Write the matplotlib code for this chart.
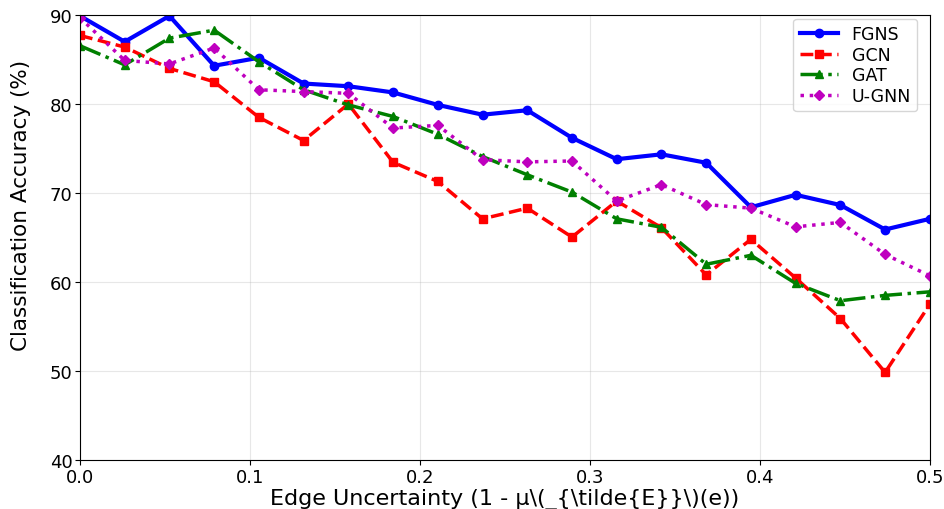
import matplotlib
matplotlib.use("Agg")
import matplotlib.pyplot as plt
import numpy as np

x = np.linspace(0, 0.5, 20)
fgns = [89.9, 87.0, 89.9, 84.3, 85.2, 82.3, 82.0, 81.3, 79.9, 78.8, 79.3, 76.2, 73.8, 74.35, 73.4, 68.4, 69.8, 68.65, 65.9, 67.1]
gcn = [87.7, 86.4, 84.0, 82.5, 78.5, 75.9, 80.0, 73.45, 71.3, 67.1, 68.3, 65.05, 69.1, 66.1, 60.8, 64.8, 60.45, 55.9, 49.85, 57.5]
gat = [86.55, 84.4, 87.4, 88.3, 84.75, 81.6, 79.9, 78.6, 76.6, 74.1, 72.05, 70.1, 67.1, 66.15, 62.0, 63.0, 59.85, 57.9, 58.5, 58.9]
ugnn = [89.7, 84.9, 84.5, 86.3, 81.6, 81.4, 81.2, 77.3, 77.6, 73.75, 73.5, 73.6, 69.1, 70.95, 68.7, 68.3, 66.2, 66.7, 63.1, 60.7]
yticks = [40, 50, 60, 70, 80, 90]

plt.rcParams['font.family'] = ['DejaVu Sans']

fig = plt.figure(figsize=(9.44, 5.10), dpi=100)
ax = fig.add_axes([0.0847, 0.096, 0.9003, 0.8726])
ax.plot(x, fgns, 'b-o', lw=3, ms=6, label='FGNS')
ax.plot(x, gcn, 'r--s', lw=2.5, ms=6, label='GCN')
ax.plot(x, gat, 'g-.^', lw=2.5, ms=6, label='GAT')
ax.plot(x, ugnn, 'm:D', lw=2.5, ms=5, label='U-GNN')
ax.set_xlim(0, 0.5)
ax.set_ylim(40, 90)
ax.set_yticks(yticks)
ax.grid(True, alpha=0.3)
ax.tick_params(labelsize=13, pad=2)
ax.set_xlabel('Edge Uncertainty (1 - μ\\(_{\\tilde{E}}\\)(e))', fontsize=16, labelpad=2)
ax.set_ylabel('Classification Accuracy (%)', fontsize=15.5)
ax.yaxis.set_label_coords(-0.058, 0.575)
ax.legend(loc='upper right', bbox_to_anchor=(0.985, 0.991), borderaxespad=0,
          fontsize=12.5, labelspacing=0.15, borderpad=0.35, handlelength=2.2)
fig.savefig('out.png', dpi=100)
